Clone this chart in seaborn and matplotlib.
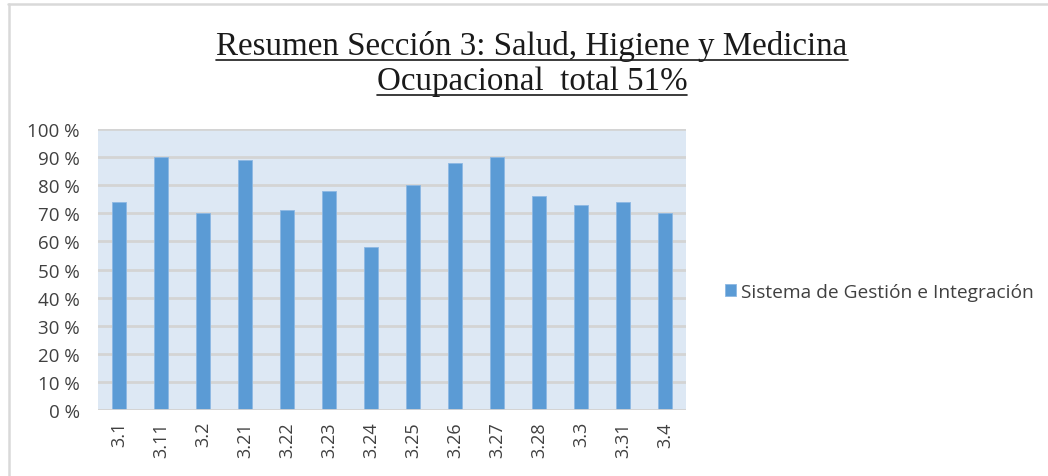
import matplotlib
matplotlib.use("Agg")
import matplotlib.pyplot as plt
import seaborn as sns
import pandas as pd
from matplotlib.lines import Line2D
from matplotlib.ticker import FuncFormatter

# datos
categorias = ["3.1", "3.11", "3.2", "3.21", "3.22", "3.23", "3.24",
              "3.25", "3.26", "3.27", "3.28", "3.3", "3.31", "3.4"]
valores = [74, 90, 70, 89, 71, 78, 58, 80, 88, 90, 76, 73, 74, 70]
serie = "Sistema de Gestión e Integración"
titulo = ["Resumen Sección 3: Salud, Higiene y Medicina",
          "Ocupacional  total 51%"]

df = pd.DataFrame({"cat": categorias, "val": valores, "serie": serie})

sns.set_style("white")
plt.rcParams["font.family"] = ["Open Sans", "DejaVu Sans"]

fig = plt.figure(figsize=(10.48, 4.77), dpi=100)
ax = fig.add_axes([98 / 1048, 1 - 411 / 477, 588 / 1048, 281 / 477])

sns.barplot(data=df, x="cat", y="val", hue="serie", palette=["#5b9bd5"],
            width=0.31, ax=ax, saturation=1, edgecolor="#8db8e3", linewidth=0.6)

ax.set_facecolor("#dde8f4")
ax.set_ylim(0, 100)
ax.set_yticks(range(0, 101, 10))
ax.yaxis.set_major_formatter(FuncFormatter(lambda v, p: f"{int(v)} %"))
ax.grid(axis="y", color="#d4d4d4", linewidth=2)
ax.set_axisbelow(True)
for s in ax.spines.values():
    s.set_visible(False)
ax.set_xlabel("")
ax.set_ylabel("")
ax.tick_params(axis="y", length=0, labelsize=13.5, labelcolor="#404040", pad=13)
ax.tick_params(axis="x", length=0, labelsize=13, labelcolor="#404040", pad=8,
               labelrotation=90)
ax.axhline(0, color="#d4d4d4", linewidth=2)

ax.legend(loc="center left", bbox_to_anchor=(708 / 1048, 1 - 293 / 477),
          bbox_transform=fig.transFigure, frameon=False, fontsize=13.8,
          handlelength=0.55, handleheight=0.55, handletextpad=0.25,
          labelcolor="#404040")

# titulo subrayado
ts = []
for i, (t, y) in enumerate(zip(titulo, [1 - 46 / 477, 1 - 82 / 477])):
    ts.append(fig.text(532 / 1048, y, t, ha="center", va="center", fontsize=23.8,
                       family="Liberation Serif", color="#1a1a1a"))

# marco gris
fig.add_artist(Line2D([8 / 1048, 1], [1 - 4.5 / 477, 1 - 4.5 / 477],
                      color="#d9d9d9", linewidth=1.8, transform=fig.transFigure))
fig.add_artist(Line2D([8.5 / 1048, 8.5 / 1048], [0, 1 - 4.5 / 477],
                      color="#d9d9d9", linewidth=1.8, transform=fig.transFigure))

fig.canvas.draw()
r = fig.canvas.get_renderer()
for t in ts:
    bb = t.get_window_extent(r)
    yl = (bb.y0 + 1) / fig.bbox.height
    fig.add_artist(Line2D([bb.x0 / fig.bbox.width, bb.x1 / fig.bbox.width], [yl, yl],
                          color="#1a1a1a", linewidth=1.2, transform=fig.transFigure))

fig.savefig("out.png", dpi=100)
